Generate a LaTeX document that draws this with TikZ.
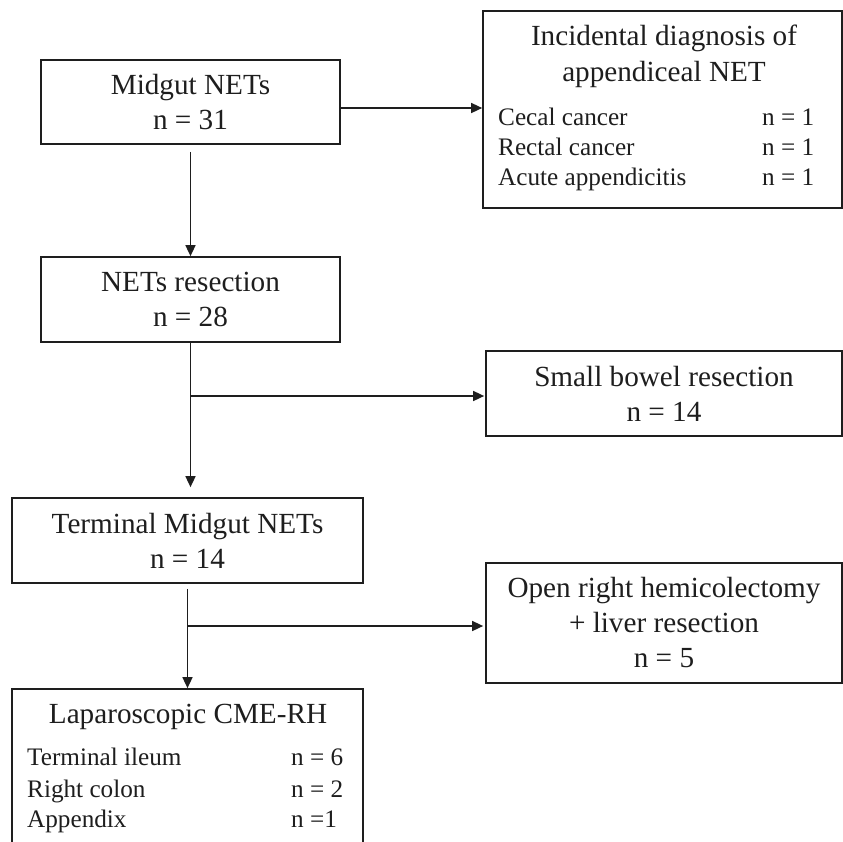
\documentclass[tikz,border=0pt]{standalone}
\usepackage{fontspec}
\setmainfont{Liberation Serif}
\usetikzlibrary{arrows.meta,calc}
\definecolor{ink}{HTML}{1E1E1E}
\begin{document}
\begin{tikzpicture}[x=1pt,y=-1pt,
  font=\fontsize{29.2pt}{35pt}\selectfont,
  box/.style={draw=ink,line width=1.7pt,rectangle,inner sep=0pt,align=center,text=ink},
  txt/.style={inner sep=0pt,text=ink},
  lst/.style={inner sep=0pt,text=ink,anchor=base west,font=\fontsize{25.2pt}{30pt}\selectfont},
  arr/.style={draw=ink,line width=1.5pt,-{Triangle[length=11pt,width=10pt]}}]
\useasboundingbox (0,0) rectangle (843,841);
\fill[white] (0,0) rectangle (843,841);
% boxes
\node[box,minimum width=299pt,minimum height=84pt] (mid) at (190.5,102) {Midgut NETs\\n = 31};
\node[box,minimum width=359pt,minimum height=197pt] (inc) at (662.5,109.5) {};
\node[box,minimum width=299pt,minimum height=85pt] (res) at (190.5,299.5) {NETs resection\\n = 28};
\node[box,minimum width=356pt,minimum height=85pt] (sbr) at (664,393.5) {Small bowel resection\\n = 14};
\node[box,minimum width=351pt,minimum height=85pt] (term) at (187.5,540.5) {Terminal Midgut NETs\\n = 14};
\node[box,minimum width=356pt,minimum height=120pt] (open) at (664,623) {Open right hemicolectomy\\+ liver resection\\n = 5};
\node[box,minimum width=351pt,minimum height=181pt] (lap) at (187.5,779.5) {};
% incidental box texts
\node[txt,anchor=base] (inch1) at (664,45) {Incidental diagnosis of};
\node[txt,anchor=base] (inch2) at (664,81) {appendiceal NET};
\node[lst] (inc1) at (498,125) {Cecal cancer};
\node[lst] (inc2) at (498,155) {Rectal cancer};
\node[lst] (inc3) at (498,185) {Acute appendicitis};
\node[lst] (incn1) at (762,125) {n = 1};
\node[lst] (incn2) at (762,155) {n = 1};
\node[lst] (incn3) at (762,185) {n = 1};
% laparoscopic box texts
\node[txt,anchor=base] (laph) at (188,723) {Laparoscopic CME-RH};
\node[lst] (lap1) at (27,765) {Terminal ileum};
\node[lst] (lap2) at (27,797) {Right colon};
\node[lst] (lap3) at (27,827) {Appendix};
\node[lst] (lapn1) at (291,765) {n = 6};
\node[lst] (lapn2) at (291,797) {n = 2};
\node[lst] (lapn3) at (291,827) {n =1};
% connectors
\draw[arr] ([yshift=-6pt]mid.east) -- ([yshift=-6pt]mid.east -| inc.west);
\draw[arr] ([yshift=-7pt]mid.south) -- (res.north);
\draw[arr] (res.south) -- ([yshift=10pt]res.south |- term.north);
\draw[arr] ([yshift=-2.5pt]res.south |- sbr.west) -- ([yshift=-2.5pt,xshift=-1pt]sbr.west);
\draw[arr] ([yshift=-5pt]term.south) -- (lap.north);
\draw[arr] ([yshift=-3pt]term.south |- open.west) -- ([yshift=-3pt,xshift=-2pt]open.west);
\end{tikzpicture}
\end{document}
